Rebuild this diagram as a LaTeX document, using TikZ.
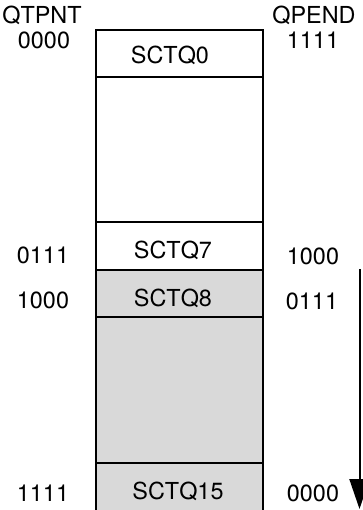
\documentclass[tikz,border=0pt]{standalone}
\usepackage{fontspec}
\setmainfont{TeX Gyre Heros}
\usepackage{xcolor}
\definecolor{qgray}{HTML}{D9D9D9}
\usetikzlibrary{arrows.meta}

\begin{document}
\begin{tikzpicture}[
    x=0.5pt, y=-0.5pt,
    font=\fontsize{11.7}{14}\selectfont,
    line width=1pt,
    cell/.style={draw, minimum width=83.5pt, inner sep=0pt, outer sep=0pt},
    used/.style={cell, fill=qgray},
    addr/.style={inner sep=0pt},
]
\useasboundingbox (0,0) rectangle (363,510);

% -- queue cells --
\node[cell, minimum height=23.5pt] (q0) at (179.5, 53.5) {};
\node[cell, minimum height=72.5pt] (qhi) at (179.5, 149.5) {};
\node[cell, minimum height=24pt] (q7) at (179.5, 246) {};
\node[used, minimum height=23.5pt] (q8) at (179.5, 293.5) {};
\node[used, minimum height=73pt] (qlo) at (179.5, 390) {};
\node[used, minimum height=24pt] (q15) at (179.5, 487) {};

% -- cell names --
\node[addr] (n0) at (170, 55) {SCTQ0};
\node[addr] (n7) at (173, 250) {SCTQ7};
\node[addr] (n8) at (173, 298) {SCTQ8};
\node[addr] (n15) at (178, 491) {SCTQ15};

% -- QTPNT column --
\node[addr] (qtpnt) at (42, 15) {QTPNT};
\node[addr] (p0) at (44, 40) {0000};
\node[addr] (p7) at (43, 255) {0111};
\node[addr] (p8) at (43, 300) {1000};
\node[addr] (p15) at (43, 493) {1111};

% -- QPEND column --
\node[addr] (qpend) at (314, 15) {QPEND};
\node[addr] (e0) at (313, 40) {1111};
\node[addr] (e7) at (313, 256) {1000};
\node[addr] (e8) at (312, 301) {0111};
\node[addr] (e15) at (313, 493) {0000};

% -- direction arrow --
\coordinate (dtop) at (359.5, 269);
\coordinate (dbot) at (359.5, 509);
\draw[-{Triangle[width=10pt, length=15pt]}] (dtop) -- (dbot);
\end{tikzpicture}
\end{document}
